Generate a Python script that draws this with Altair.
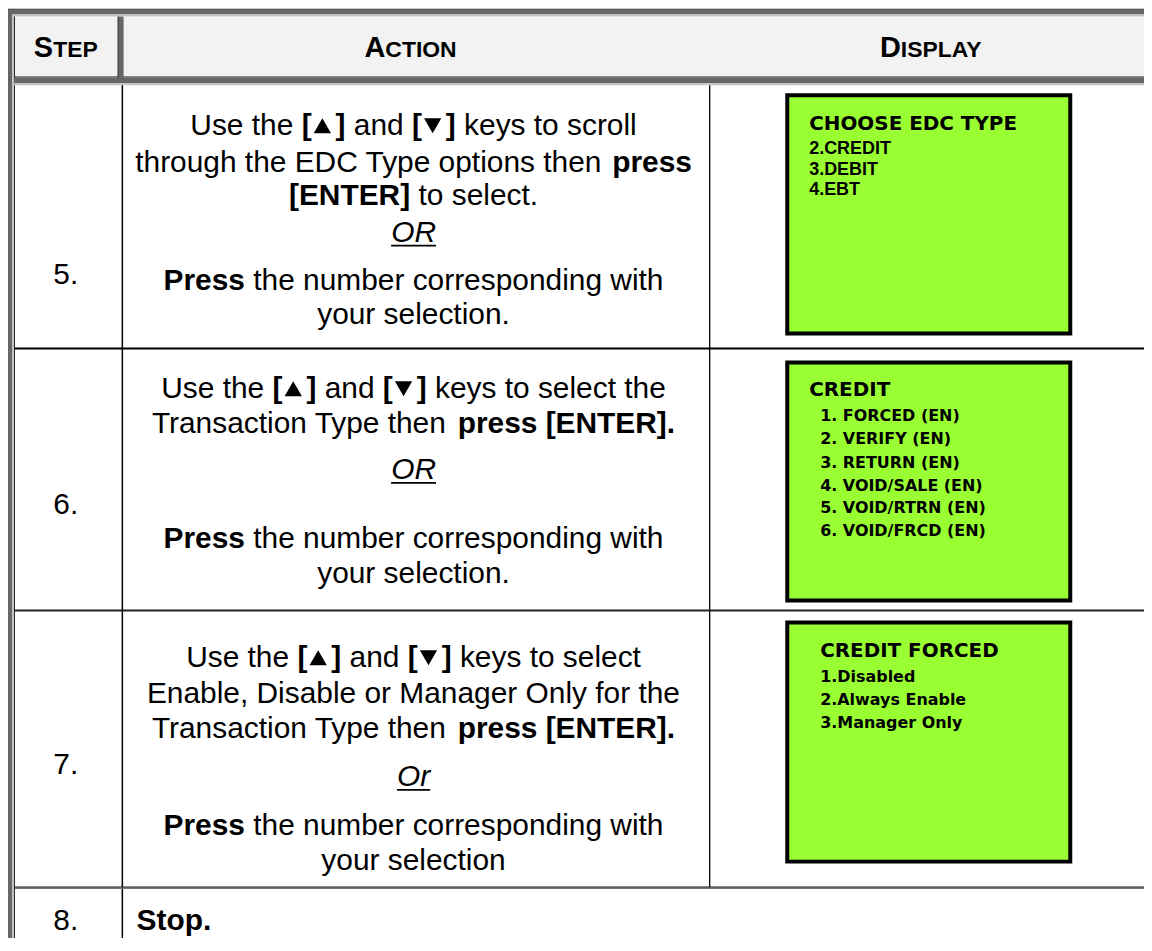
import altair as alt
import pandas as pd

# ---------------- content ----------------
HEADERS = [("S", "TEP"), ("A", "CTION"), ("D", "ISPLAY")]
STEPS = ["5.", "6.", "7.", "8."]

R, B, IU, UP, DN = "r", "b", "iu", "up", "dn"
USE_KEYS = [("Use the ", R), ("[", B), ("", UP), ("]", B), (" and ", R),
            ("[", B), ("", DN), ("]", B)]

ACTION_5 = [
    USE_KEYS + [(" keys to scroll", R)],
    [("through the EDC Type options then ", R), ("press", B)],
    [("[ENTER]", B), (" to select.", R)],
    [("OR", IU)],
    [("Press", B), (" the number corresponding with", R)],
    [("your selection.", R)],
]
ACTION_6 = [
    USE_KEYS + [(" keys to select the", R)],
    [("Transaction Type then ", R), ("press [ENTER].", B)],
    [("OR", IU)],
    [("Press", B), (" the number corresponding with", R)],
    [("your selection.", R)],
]
ACTION_7 = [
    USE_KEYS + [(" keys to select", R)],
    [("Enable, Disable or Manager Only for the", R)],
    [("Transaction Type then ", R), ("press [ENTER].", B)],
    [("Or", IU)],
    [("Press", B), (" the number corresponding with", R)],
    [("your selection", R)],
]
ACTION_8 = [[("Stop.", B)]]
ACTIONS = [ACTION_5, ACTION_6, ACTION_7]

DISPLAY_TITLES = ["CHOOSE EDC TYPE", "CREDIT", "CREDIT FORCED"]
DISPLAY_ITEMS = [
    ["2.CREDIT", "3.DEBIT", "4.EBT"],
    ["1. FORCED (EN)", "2. VERIFY (EN)", "3. RETURN (EN)",
     "4. VOID/SALE (EN)", "5. VOID/RTRN (EN)", "6. VOID/FRCD (EN)"],
    ["1.Disabled", "2.Always Enable", "3.Manager Only"],
]

# ---------------- layout (page pixels) ----------------
ORIGIN = 8
W, H = 1140, 930
FS = 30
HEAD_BIG, HEAD_SMALL, HEAD_BASE = 29, 23, 56
HEAD_CX = [66, 412, 935]
STEP_CX = 66
ACTION_CX = 415
STOP_X = 137
ACTION_Y = [[123, 160, 194, 231, 279, 313],
            [387, 422, 469, 538, 573],
            [657, 693, 728, 777, 826, 861]]
STOP_Y = 921
STEP_Y = [273, 504, 765, 921]
BOX_X = (790, 1074)
BOX_Y = [(94, 333), (362, 601), (623, 863)]
TITLE_POS = [(812, 122), (812, 389), (823, 650)]
TITLE_FS = 20
ITEM_X = [812, 823, 823]
ITEM_FS = [18, 16, 16]
ITEM_FONT = ["arialb", "gothic", "gothic"]
ITEM_Y = [[146, 167, 188],
          [415, 438, 462, 485, 507, 530],
          [677, 700, 723]]
GREEN = "#99ff33"
DARK, LIGHT, HEADBG = "#666666", "#c4c4c4", "#f2f2f2"

# Arial / Liberation Sans advance widths (1/1000 em)
_REG = dict(zip(" ,.[]/()-", [278, 278, 278, 278, 278, 278, 333, 333, 333]))
_REG.update({d: 556 for d in "0123456789"})
_REG.update(dict(zip("ABCDEFGHIJKLMNOPQRSTUVWXYZ",
    [667, 667, 722, 722, 667, 611, 778, 722, 278, 500, 667, 556, 833, 722, 778,
     667, 778, 722, 667, 611, 722, 667, 944, 667, 667, 611])))
_REG.update(dict(zip("abcdefghijklmnopqrstuvwxyz",
    [556, 556, 500, 556, 556, 278, 556, 556, 222, 222, 500, 222, 833, 556, 556,
     556, 556, 333, 500, 278, 556, 500, 722, 500, 500, 500])))
_BOLD = dict(zip(" ,.[]/()-", [278, 278, 278, 333, 333, 278, 333, 333, 333]))
_BOLD.update({d: 556 for d in "0123456789"})
_BOLD.update(dict(zip("ABCDEFGHIJKLMNOPQRSTUVWXYZ",
    [722, 722, 722, 722, 667, 611, 778, 722, 278, 556, 722, 611, 833, 722, 778,
     667, 778, 722, 667, 611, 722, 667, 944, 667, 667, 611])))
_BOLD.update(dict(zip("abcdefghijklmnopqrstuvwxyz",
    [556, 611, 556, 611, 556, 333, 611, 611, 278, 278, 556, 278, 889, 611, 611,
     611, 611, 389, 556, 333, 611, 556, 778, 556, 556, 500])))
TRI_W = 0.80


def seg_width(text, style, fs):
    if style in (UP, DN):
        return TRI_W * fs
    tab = _BOLD if style == B else _REG
    return sum(tab.get(c, 556) for c in text) / 1000.0 * fs


text_rows, tri_rows, rect_rows = [], [], []


def place_line(segs, x0, cy, fs):
    base = cy + 0.35 * fs
    x = x0
    for text, style in segs:
        w = seg_width(text, style, fs)
        if style in (UP, DN):
            tri_rows.append(dict(x=x + w * 0.45, y=base - 0.30 * fs,
                                 shape="triangle-up" if style == UP else "triangle-down",
                                 sz=(0.42 * fs) ** 2 * 1.9))
        else:
            lead = len(text) - len(text.lstrip(" "))
            body = text.strip(" ")
            grp = {R: "reg", B: "bold", IU: "ital"}[style]
            tx = x + seg_width(" " * lead, style, fs)
            text_rows.append(dict(x=tx, y=base, t=body, fs=fs, g=grp))
            if style == IU:
                rect_rows.append(dict(x=tx, x2=tx + seg_width(body, style, fs),
                                      y=base + 2.5, y2=base + 4.3, c="#000000"))
        x += w


def centred(segs, cx, cy, fs):
    total = sum(seg_width(t, s, fs) for t, s in segs)
    place_line(segs, cx - total / 2, cy, fs)


# header (small caps)
for (big, small), cx in zip(HEADERS, HEAD_CX):
    wb = seg_width(big, B, HEAD_BIG)
    ws = seg_width(small, B, HEAD_SMALL)
    x0 = cx - (wb + ws) / 2
    text_rows.append(dict(x=x0, y=HEAD_BASE, t=big, fs=HEAD_BIG, g="bold"))
    text_rows.append(dict(x=x0 + wb, y=HEAD_BASE, t=small, fs=HEAD_SMALL, g="bold"))

# step numbers
for s, cy in zip(STEPS, STEP_Y):
    centred([(s, R)], STEP_CX, cy, FS)

# action text
for lines, ys in zip(ACTIONS, ACTION_Y):
    for segs, cy in zip(lines, ys):
        centred(segs, ACTION_CX, cy, FS)
place_line(ACTION_8[0], STOP_X, STOP_Y, FS)

# display boxes
box_rows = [dict(x=BOX_X[0], x2=BOX_X[1], y=y0, y2=y1) for y0, y1 in BOX_Y]
for k in range(3):
    tx, ty = TITLE_POS[k]
    text_rows.append(dict(x=tx, y=ty + 0.36 * TITLE_FS, t=DISPLAY_TITLES[k],
                          fs=TITLE_FS, g="gothic"))
    for item, iy in zip(DISPLAY_ITEMS[k], ITEM_Y[k]):
        text_rows.append(dict(x=ITEM_X[k], y=iy + 0.36 * ITEM_FS[k], t=item,
                              fs=ITEM_FS[k], g=ITEM_FONT[k]))

# table frame and rules
RIGHT = 1160
rect_rows += [
    dict(x=14, x2=RIGHT, y=15, y2=75, c=HEADBG),
    dict(x=7, x2=RIGHT, y=7, y2=8.2, c="#222222"),
    dict(x=7, x2=RIGHT, y=8, y2=13, c=DARK),
    dict(x=12, x2=RIGHT, y=13, y2=15, c=LIGHT),
    dict(x=7, x2=8.2, y=7, y2=960, c="#222222"),
    dict(x=8, x2=12, y=8, y2=960, c=DARK),
    dict(x=12, x2=14, y=13, y2=960, c=LIGHT),
    dict(x=14, x2=15, y=15, y2=960, c="#222222"),
    dict(x=14, x2=RIGHT, y=75, y2=76.2, c="#111111"),
    dict(x=14, x2=RIGHT, y=76, y2=82, c=DARK),
    dict(x=14, x2=RIGHT, y=82, y2=84, c=LIGHT),
    dict(x=118, x2=119.2, y=15, y2=76, c="#111111"),
    dict(x=119, x2=124, y=15, y2=76, c=DARK),
    dict(x=122, x2=123.5, y=84, y2=960, c="#000000"),
    dict(x=711.5, x2=712.8, y=84, y2=889, c="#000000"),
    dict(x=15, x2=RIGHT, y=347, y2=349, c="#000000"),
    dict(x=15, x2=RIGHT, y=610, y2=612, c="#222222"),
    dict(x=15, x2=RIGHT, y=888, y2=889.2, c="#111111"),
    dict(x=15, x2=RIGHT, y=889, y2=890.5, c="#777777"),
]

xs = alt.Scale(domain=[ORIGIN, ORIGIN + W], range=[0, W], nice=False, zero=False)
ys = alt.Scale(domain=[ORIGIN, ORIGIN + H], range=[0, H], nice=False, zero=False)

df_rect = pd.DataFrame(rect_rows)
df_box = pd.DataFrame(box_rows)
df_text = pd.DataFrame(text_rows)
df_tri = pd.DataFrame(tri_rows)

X = alt.X("x:Q", scale=xs, axis=None)
Y = alt.Y("y:Q", scale=ys, axis=None)

is_bg = df_rect.c == HEADBG
bg_rects = alt.Chart(df_rect[is_bg]).mark_rect().encode(
    x=X, x2="x2:Q", y=Y, y2="y2:Q", color=alt.Color("c:N", scale=None))
rules = alt.Chart(df_rect[~is_bg]).mark_rect().encode(
    x=X, x2="x2:Q", y=Y, y2="y2:Q", color=alt.Color("c:N", scale=None))
boxes = alt.Chart(df_box).mark_rect(fill=GREEN, stroke="#000000", strokeWidth=4).encode(
    x=X, x2="x2:Q", y=Y, y2="y2:Q")

FONTS = {
    "reg": dict(font="Liberation Sans", fontWeight="normal", fontStyle="normal"),
    "bold": dict(font="Liberation Sans", fontWeight="bold", fontStyle="normal"),
    "ital": dict(font="Liberation Sans", fontWeight="normal", fontStyle="italic"),
    "arialb": dict(font="Liberation Sans", fontWeight="bold", fontStyle="normal"),
    "gothic": dict(font="DejaVu Sans", fontWeight="bold", fontStyle="normal"),
}
text_layers = []
for g, opts in FONTS.items():
    sub = df_text[df_text.g == g]
    if len(sub) == 0:
        continue
    text_layers.append(
        alt.Chart(sub).mark_text(align="left", baseline="alphabetic", color="#000000", **opts)
        .encode(x=X, y=Y, text="t:N", size=alt.Size("fs:Q", scale=None, legend=None))
    )

tris = alt.Chart(df_tri).mark_point(filled=True, color="#000000", opacity=1, strokeWidth=0).encode(
    x=X, y=Y, shape=alt.Shape("shape:N", scale=None, legend=None),
    size=alt.Size("sz:Q", scale=None, legend=None))

chart = alt.layer(bg_rects, rules, boxes, *text_layers, tris).properties(
    width=W, height=H, padding=0, background="#ffffff",
    autosize=alt.AutoSizeParams(type="none"),
).configure_view(strokeWidth=0)

chart.save("out.html", embed_options={"renderer": "svg", "actions": False})
